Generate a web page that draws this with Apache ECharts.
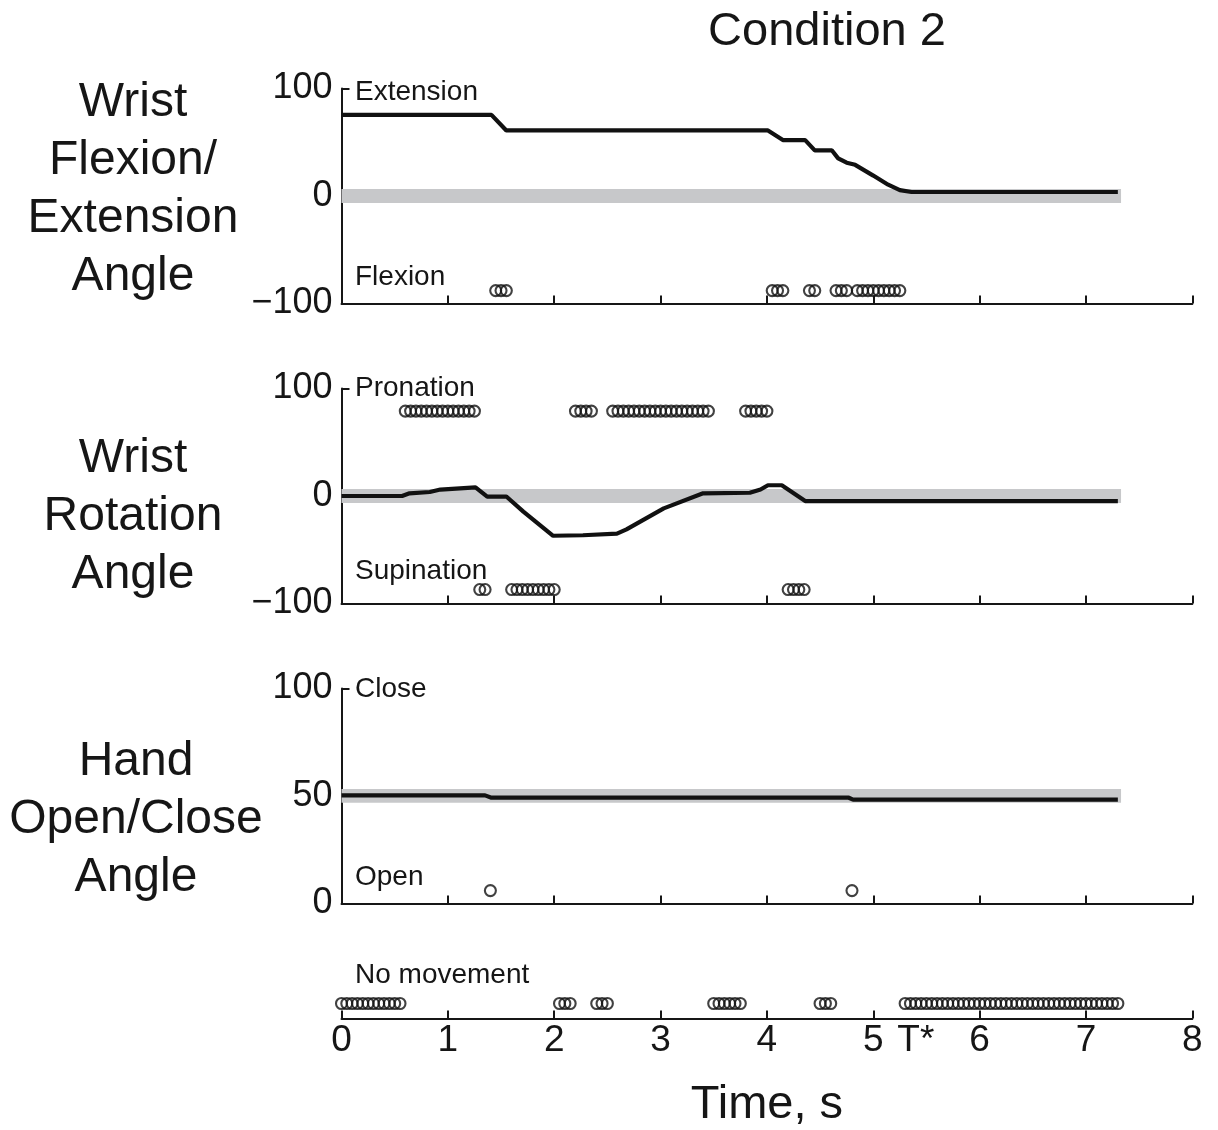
<!DOCTYPE html>
<html>
<head>
<meta charset="utf-8">
<title>Condition 2</title>
<script src="https://cdn.jsdelivr.net/npm/echarts@6/dist/echarts.min.js"></script>
<style>
    html, body { margin: 0; padding: 0; background: #fff; }
    #main { width: 1218px; height: 1130px; }
</style>
</head>
<body>
<div id="main"></div>
<script>
/* wrist flexion / extension angle */
var wfeTime  = [0, 1.41, 1.55, 4.01, 4.15, 4.36, 4.45, 4.61, 4.67, 4.75, 4.83, 5.00, 5.14, 5.25, 5.36, 7.30];
var wfeAngle = [75.5, 75.5, 61, 61, 52, 52, 42.5, 42.5, 35, 31, 29, 19, 10.5, 5.5, 3.7, 3.7];
/* wrist rotation angle */
var wrTime  = [0, 0.57, 0.64, 0.83, 0.93, 1.26, 1.37, 1.55, 1.71, 1.99, 2.27, 2.59, 2.68, 3.03, 3.40, 3.84, 3.94, 4.01, 4.14, 4.36, 7.30];
var wrAngle = [0, 0, 2.5, 3.7, 6, 8, -0.5, -0.5, -14.5, -37, -36.5, -35, -31, -11.5, 2.5, 3, 6, 10, 10, -4.7, -4.7];
/* hand open / close angle */
var hocTime  = [0, 1.35, 1.41, 4.77, 4.81, 7.30];
var hocAngle = [50.3, 50.3, 49.2, 49.2, 48.3, 48.3];

/* gray dead bands */
var bandEnd = 7.33;
var wfeBand = [-6.5, 6.5];
var wrBand  = [-6.5, 6.5];
var hocBand = [46.9, 53.3];

/* command circles (time, s) */
var flexionTimes = [1.45, 1.50, 1.55, 4.05, 4.10, 4.15, 4.40, 4.45, 4.65, 4.70, 4.75,
    4.85, 4.90, 4.95, 5.00, 5.05, 5.10, 5.15, 5.20, 5.25];
var pronationTimes = [0.60, 0.65, 0.70, 0.75, 0.80, 0.85, 0.90, 0.95, 1.00, 1.05, 1.10, 1.15, 1.20, 1.25,
    2.20, 2.25, 2.30, 2.35,
    2.55, 2.60, 2.65, 2.70, 2.75, 2.80, 2.85, 2.90, 2.95, 3.00, 3.05, 3.10, 3.15, 3.20, 3.25, 3.30, 3.35, 3.40, 3.45,
    3.80, 3.85, 3.90, 3.95, 4.00];
var supinationTimes = [1.30, 1.35, 1.60, 1.65, 1.70, 1.75, 1.80, 1.85, 1.90, 1.95, 2.00,
    4.20, 4.25, 4.30, 4.35];
var openTimes = [1.40, 4.80];
var noMoveTimes = [0.00, 0.05, 0.10, 0.15, 0.20, 0.25, 0.30, 0.35, 0.40, 0.45, 0.50, 0.55,
    2.05, 2.10, 2.15, 2.40, 2.45, 2.50,
    3.50, 3.55, 3.60, 3.65, 3.70, 3.75,
    4.50, 4.55, 4.60,
    5.30, 5.35, 5.40, 5.45, 5.50, 5.55, 5.60, 5.65, 5.70, 5.75, 5.80, 5.85, 5.90, 5.95,
    6.00, 6.05, 6.10, 6.15, 6.20, 6.25, 6.30, 6.35, 6.40, 6.45, 6.50, 6.55, 6.60, 6.65,
    6.70, 6.75, 6.80, 6.85, 6.90, 6.95, 7.00, 7.05, 7.10, 7.15, 7.20, 7.25, 7.30];

/* row heights of the circles */
var flexionRow = -88;
var pronationRow = 79;
var supinationRow = -87;
var openRow = 6;
var noMoveRow = 0.5;

/* axis ticks */
var timeTicks = [0, 1, 2, 3, 4, 5, 6, 7, 8];
var tStar = 5.4;
var timeLabels = [0, 1, 2, 3, 4, 5, tStar, 6, 7, 8];

var INK = '#161616';
var BAND = '#c7c8ca';
var FONT = '"Liberation Sans", Arial, Helvetica, sans-serif';

var chart = echarts.init(document.getElementById('main'), null, {renderer: 'canvas'});

function pairs(xs, ys) {
    return xs.map(function (x, i) { return [x, ys[i]]; });
}
function rowPoints(times, row) {
    return times.map(function (t) { return [t, row]; });
}
function grid(top, height) {
    return {left: 341.5, right: 25.7, top: top, height: height};
}
function timeAxis(idx, withLabels) {
    var ax = {
        type: 'value', gridIndex: idx, min: 0, max: 8, interval: 1,
        axisLine: {show: true, onZero: false, lineStyle: {color: INK, width: 2}},
        axisTick: {show: true, inside: true, length: 8, lineStyle: {color: INK, width: 2}},
        axisLabel: {show: false},
        splitLine: {show: false}
    };
    if (withLabels) {
        ax.axisTick.customValues = timeTicks;
        ax.axisLabel = {
            show: true, customValues: timeLabels, fontSize: 37, color: INK, fontFamily: FONT, margin: 4,
            formatter: function (v) { return Math.abs(v - tStar) < 1e-6 ? 'T*' : String(v); }
        };
        ax.name = 'Time, s';
        ax.nameLocation = 'middle';
        ax.nameGap = 63;
        ax.nameTextStyle = {fontSize: 47, color: INK, fontFamily: FONT};
    }
    return ax;
}
function angleAxis(idx, min, max, interval) {
    return {
        type: 'value', gridIndex: idx, min: min, max: max, interval: interval,
        axisLine: {show: true, onZero: false, lineStyle: {color: INK, width: 2}},
        axisTick: {show: true, inside: true, length: 8, lineStyle: {color: INK, width: 2}},
        axisLabel: {
            fontSize: 36, color: INK, fontFamily: FONT, margin: 9,
            formatter: function (v) { return String(v).replace('-', '\u2212'); }
        },
        splitLine: {show: false}
    };
}
function angleLine(idx, data, band) {
    return {
        type: 'line', xAxisIndex: idx, yAxisIndex: idx, data: data,
        showSymbol: false, z: 3,
        lineStyle: {color: '#111', width: 4.2},
        markArea: {
            silent: true, itemStyle: {color: BAND},
            data: [[{coord: [0, band[0]]}, {coord: [bandEnd, band[1]]}]]
        }
    };
}
function circles(idx, data) {
    return {
        type: 'scatter', xAxisIndex: idx, yAxisIndex: idx, data: data,
        symbol: 'circle', symbolSize: 11, z: 4,
        itemStyle: {color: 'rgba(0,0,0,0)', borderColor: '#111', borderWidth: 2.1}
    };
}
function txt(x, y, text, size, align, lineHeight) {
    return {
        type: 'text', x: x, y: y, silent: true,
        style: {
            text: text, fill: INK, align: align || 'left', verticalAlign: 'middle',
            font: size + 'px ' + FONT, lineHeight: lineHeight || size
        }
    };
}

var option = {
    backgroundColor: '#fff',
    animation: false,
    grid: [grid(88.5, 215), grid(388.5, 215), grid(688.5, 215), grid(988.5, 30)],
    xAxis: [timeAxis(0, false), timeAxis(1, false), timeAxis(2, false), timeAxis(3, true)],
    yAxis: [
        angleAxis(0, -100, 100, 100),
        angleAxis(1, -100, 100, 100),
        angleAxis(2, 0, 100, 50),
        {type: 'value', gridIndex: 3, min: 0, max: 1, show: false}
    ],
    series: [
        angleLine(0, pairs(wfeTime, wfeAngle), wfeBand),
        circles(0, rowPoints(flexionTimes, flexionRow)),
        angleLine(1, pairs(wrTime, wrAngle), wrBand),
        circles(1, rowPoints(pronationTimes, pronationRow)),
        circles(1, rowPoints(supinationTimes, supinationRow)),
        angleLine(2, pairs(hocTime, hocAngle), hocBand),
        circles(2, rowPoints(openTimes, openRow)),
        circles(3, rowPoints(noMoveTimes, noMoveRow))
    ],
    graphic: [
        txt(827, 32, 'Condition 2', 47, 'center'),
        txt(133, 190, 'Wrist\nFlexion/\nExtension\nAngle', 48, 'center', 58),
        txt(133, 516.5, 'Wrist\nRotation\nAngle', 48, 'center', 58),
        txt(136, 819.5, 'Hand\nOpen/Close\nAngle', 48, 'center', 58),
        txt(355, 92, 'Extension', 28),
        txt(355, 277, 'Flexion', 28),
        txt(355, 388, 'Pronation', 28),
        txt(355, 571, 'Supination', 28),
        txt(355, 689, 'Close', 28),
        txt(355, 877, 'Open', 28),
        txt(355, 975, 'No movement', 28)
    ]
};

chart.setOption(option);
</script>
</body>
</html>
